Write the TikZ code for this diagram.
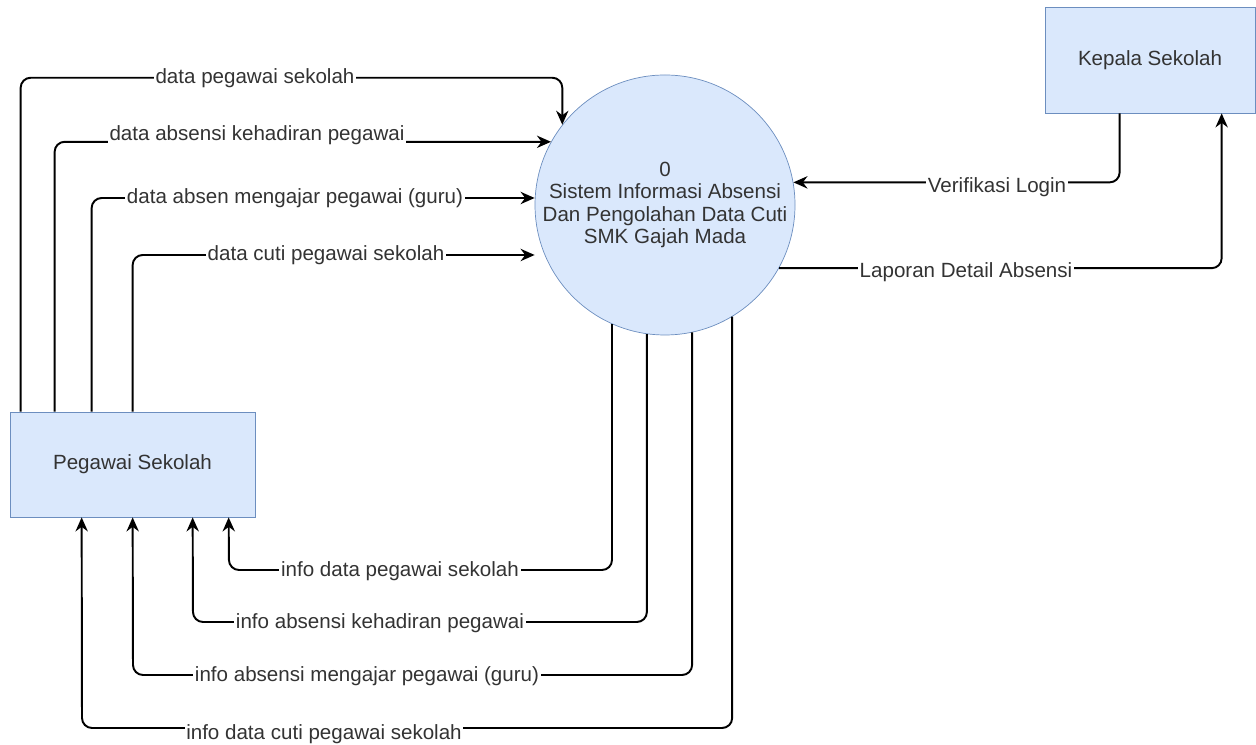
\documentclass[tikz,border=0pt]{standalone}
\usepackage{fontspec}
\setmainfont{Liberation Sans}
\usetikzlibrary{arrows.meta,positioning,shapes.geometric}
\definecolor{entityfill}{HTML}{DAE8FC}
\definecolor{entityline}{HTML}{6C8EBF}

\begin{document}
\begin{tikzpicture}[auto,
    every text node part/.style={align=center},
    every node/.style={font=\fontsize{11.7}{12.8}\selectfont,text=black!80},
    entity/.style={draw=entityline,fill=entityfill,rectangle,minimum width=4.9cm,minimum height=2.1cm},
    process/.style={draw=entityline,fill=entityfill,circle,inner sep=0pt,minimum size=5.2cm},
    flow/.style={-{Stealth[length=8pt,width=7pt]},line width=1.1pt,rounded corners=.2cm},
    lbl/.style={fill=white,inner sep=1pt}]
    \useasboundingbox (0,0) rectangle (25.12,14.9);

    \node[process] (proc) at (13.3,10.8) {0\\ Sistem Informasi Absensi\\ Dan Pengolahan Data Cuti\\ SMK Gajah Mada};
    \node[entity] (pegawai) at (2.65,5.61) {Pegawai Sekolah};
    \node[entity,minimum width=4.2cm,minimum height=2.12cm] (kepala) at (23.0,13.7) {Kepala Sekolah};

    % pegawai -> sistem
    \draw[flow] ([xshift=.22cm]pegawai.north west) |- ([yshift=.94cm]proc.142) -- (proc.142);
    \draw[flow] ([xshift=.9cm]pegawai.north west) |- (proc.151);
    \draw[flow] ([xshift=1.64cm]pegawai.north west) |- ([yshift=.14cm]proc.west);
    \draw[flow] ([xshift=2.46cm]pegawai.north west) |- ([yshift=-1cm]proc.west);

    % sistem -> pegawai
    \draw[flow] (proc.246) |- (4.58,3.5) -- ([xshift=4.38cm]pegawai.south west);
    \draw[flow] (proc.262) |- (3.86,2.46) -- ([xshift=3.66cm]pegawai.south west);
    \draw[flow] (proc.282) |- (2.66,1.4) -- ([xshift=2.46cm]pegawai.south west);
    \draw[flow] (proc.301) |- (1.64,.34) -- ([xshift=1.44cm]pegawai.south west);

    % kepala <-> sistem
    \draw[flow] ([xshift=1.5cm]kepala.south west) |- (proc.10);
    \draw[flow] (proc.331) -| ([xshift=3.54cm]kepala.south west);

    \node[lbl] (peglabel) at (5.1,13.34) {data pegawai sekolah};
    \node[lbl,inner ysep=4pt] (abslabel) at (5.14,12.2) {data absensi kehadiran pegawai};
    \node[lbl] (ajarlabel) at (5.9,10.94) {data absen mengajar pegawai (guru)};
    \node[lbl] (cutilabel) at (6.52,9.8) {data cuti pegawai sekolah};
    \node[lbl] (infopeglabel) at (8.0,3.47) {info data pegawai sekolah};
    \node[lbl] (infoabslabel) at (7.6,2.44) {info absensi kehadiran pegawai};
    \node[lbl] (infoajarlabel) at (7.34,1.38) {info absensi mengajar pegawai (guru)};
    \node[lbl] (infocutilabel) at (6.48,.22) {info data cuti pegawai sekolah};
    \node[lbl] (loginlabel) at (19.94,11.15) {Verifikasi Login};
    \node[lbl] (laporanlabel) at (19.32,9.46) {Laporan Detail Absensi};

\end{tikzpicture}
\end{document}
